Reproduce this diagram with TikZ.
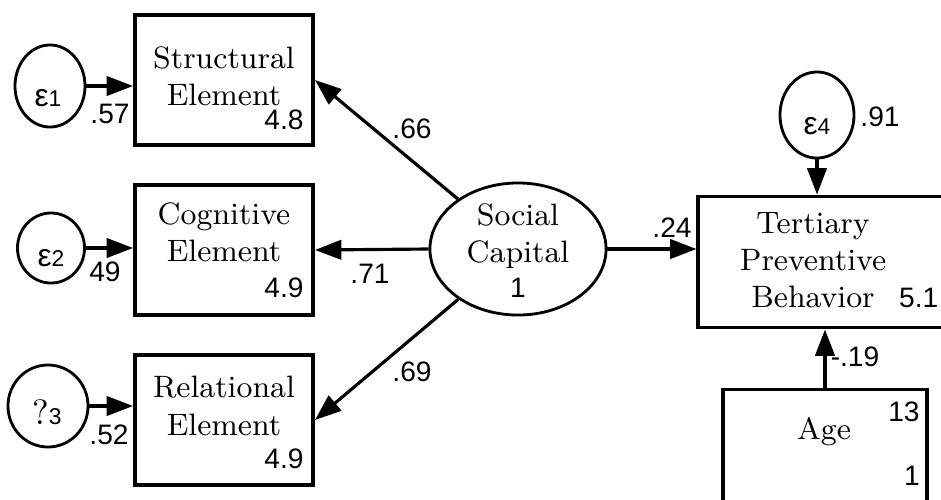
\documentclass[tikz,border=0pt]{standalone}
\usepackage{fontspec}
\setsansfont{Liberation Sans}
\usepackage{tikz}
\usetikzlibrary{arrows.meta, positioning, calc, shapes.geometric}
\newcommand{\errlbl}[1]{{\fontsize{9}{9}\selectfont ε}{\fontsize{6.5}{7}\selectfont #1}}

\begin{document}
\begin{tikzpicture}[
            x=0.01cm, y=-0.01cm,
            obs/.style  ={draw, line width=1.1pt, inner sep=0pt,
                          minimum width=1.78cm, minimum height=1.30cm},
            lat/.style  ={draw, ellipse, line width=0.8pt, inner sep=0pt,
                          minimum width=1.76cm, minimum height=1.32cm},
            err/.style  ={draw, ellipse, line width=0.8pt, inner sep=0pt},
            lbl/.style  ={align=center, inner sep=0pt,
                          font=\fontsize{8.8}{10.6}\selectfont},
            etxt/.style ={inner sep=0pt, font=\sffamily},
            num/.style  ={inner sep=0pt, font=\fontsize{8}{9}\selectfont\sffamily},
            path/.style ={-{Triangle[length=7.5pt, width=5.5pt]}, line width=0.9pt}
        ]
        \clip (0,0) rectangle (941,499);

        %% ---- left column: indicators with their error terms -------------------
        \node[obs] (se) at (224,80) {};
        \node[lbl] (set) at (224,76) {Structural\\Element};
        \node[num] (sev) at (284,120) {4.8};

        \node[obs] (ce) at (224,250) {};
        \node[lbl] (cet) at (224,232) {Cognitive\\Element};
        \node[num] (cev) at (284,288) {4.9};

        \node[obs] (re) at (224,420) {};
        \node[lbl] (ret) at (224,406) {Relational\\Element};
        \node[num] (rev) at (284,459) {4.9};

        \node[err, minimum width=0.70cm, minimum height=0.82cm] (e1) at (50,86) {};
        \node[etxt] (e1t) at (48,98) {\errlbl{1}};
        \node[num] (e1v) at (110,114) {.57};

        \node[err, minimum width=0.67cm, minimum height=0.70cm] (e2) at (51,248) {};
        \node[etxt] (e2t) at (51,258) {\errlbl{2}};
        \node[num] (e2v) at (105,272) {49};

        \node[err, minimum width=0.80cm, minimum height=0.82cm] (e3) at (48,406) {};
        \node[etxt] (e3t) at (47,412) {{\fontsize{10}{10}\selectfont\rmfamily ?}{\fontsize{6.5}{7}\selectfont 3}};
        \node[num] (e3v) at (109,435) {.52};

        \draw[path] (e1.east) -- (e1.east -| se.west);
        \draw[path] (e2.east) -- (e2.east -| ce.west);
        \draw[path] (e3.east) -- (e3.east -| re.west);

        %% ---- latent factor ----------------------------------------------------
        \node[lat] (sc) at (518,249) {};
        \node[lbl] (sct) at (518,236) {Social\\Capital};
        \node[num] (scv) at (518,288) {1};

        \draw[path] (sc) -- (se.east);
        \draw[path] (sc.west) -- (ce.east);
        \draw[path] (sc) -- (re.east);
        \node[num] (l66) at (412,129) {.66};
        \node[num] (l71) at (370,274) {.71};
        \node[num] (l69) at (412,372) {.69};

        %% ---- outcome, its error term and the covariate -------------------------
        \node[obs, minimum width=2.61cm, minimum height=1.31cm] (tpb) at (829,262) {};
        \node[lbl] (tpbt) at (813,260) {Tertiary\\Preventive\\Behavior};
        \node[num, anchor=east] (tpbv) at (939,298) {5.1};

        \node[err, minimum width=0.74cm, minimum height=0.86cm] (e4) at (817,115) {};
        \node[etxt] (e4t) at (817,126) {\errlbl{4}};
        \node[num] (e4v) at (880,117) {.91};

        \node[obs, minimum width=2.04cm, minimum height=1.31cm] (age) at (825,455) {};
        \node[lbl] (aget) at (824,432) {Age};
        \node[num] (agem) at (904,412) {13};
        \node[num] (agev) at (912,476) {1};

        \draw[path] (sc.east) -- (sc.east -| tpb.west);
        \draw[path] (e4.south) -- (e4.south |- tpb.north);
        \draw[path] (age.north) -- (age.north |- tpb.south);
        \node[num] (l24) at (672,228) {.24};
        \node[num] (l19) at (855,357) {-.19};
    \end{tikzpicture}
\end{document}
